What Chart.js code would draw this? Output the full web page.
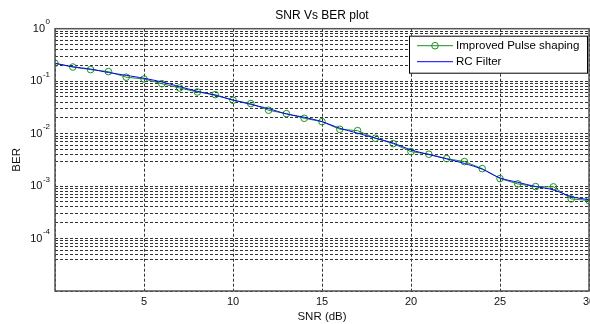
<!DOCTYPE html>
<html>
<head>
<meta charset="utf-8">
<title>SNR Vs BER plot</title>
<script src="https://cdn.jsdelivr.net/npm/chart.js@4.4.1/dist/chart.umd.min.js"></script>
<style>
  html, body { margin: 0; padding: 0; background: #fff; overflow: hidden; }
  #berChart { display: block; }
</style>
</head>
<body>
<canvas id="berChart" width="600" height="324"></canvas>
<script>
// SNR points (dB)
const snrDb = [0, 1, 2, 3, 4, 5, 6, 7, 8, 9, 10, 11, 12, 13, 14, 15,
  16, 17, 18, 19, 20, 21, 22, 23, 24, 25, 26, 27, 28, 29, 30];

// simulated BER, improved pulse shaping
const berImproved = [0.219, 0.186, 0.166, 0.152, 0.119, 0.110, 0.0896, 0.0742,
  0.0622, 0.0553, 0.0433, 0.0373, 0.0279, 0.0240, 0.0196, 0.0169, 0.0121,
  0.0114, 0.00817, 0.00645, 0.00454, 0.00405, 0.00334, 0.00293, 0.00215,
  0.00139, 0.00110, 0.000977, 0.000966, 0.000570, 0.000530];

// BER with the raised cosine filter
const berRcFilter = [0.219, 0.188, 0.170, 0.146, 0.129, 0.1136, 0.0966, 0.0786,
  0.0642, 0.0537, 0.0437, 0.0360, 0.0300, 0.0237, 0.0205, 0.0169, 0.0127,
  0.0102, 0.0082, 0.0066, 0.0049, 0.0040, 0.0033, 0.0027, 0.0021,
  0.00143, 0.00118, 0.00098, 0.00085, 0.00063, 0.00055];

const seriesNames = ["Improved Pulse shaping", "RC Filter"];

// labelled powers of ten on the BER axis
const yLabelExponents = [0, -1, -2, -3, -4];
// x tick values (0 stays unlabelled)
const xTickValues = [0, 5, 10, 15, 20, 25, 30];
// minor grid lines that are not drawn
const gridSkipped = ["2e-3", "3e-5", "2e-5"];

// grid lines for the log axis: 1..9 x 10^e
const yGridValues = [];
for (let e = -5; e <= 0; e++) {
  for (let m = 1; m <= 9; m++) {
    if (e === 0 && m > 1) break;
    const key = `${m}e${e}`;
    if (gridSkipped.includes(key)) continue;
    yGridValues.push(parseFloat(key));
  }
}

const GREEN = "#1f8f1f";
const BLUE = "#0000ff";
const GRID = "#333";
const FONT = "'Liberation Sans', Arial, Helvetica, sans-serif";

// 10^n labels with a raised exponent
const powerLabels = {
  id: "powerLabels",
  afterDraw(chart) {
    const { ctx, scales: { y } } = chart;
    const right = 50;
    ctx.save();
    ctx.fillStyle = "#111";
    ctx.textBaseline = "middle";
    yLabelExponents.forEach(exp => {
      const py = y.getPixelForValue(Math.pow(10, exp));
      const expText = String(exp);
      ctx.font = `8px ${FONT}`;
      const expW = ctx.measureText(expText).width;
      ctx.textAlign = "left";
      ctx.fillText(expText, right - expW, py - 6.5);
      ctx.font = `11px ${FONT}`;
      ctx.textAlign = "right";
      ctx.fillText("10", right - expW - 0.5, py);
    });
    ctx.restore();
  }
};

// axes frame on all four sides
const axesBox = {
  id: "axesBox",
  afterDatasetsDraw(chart) {
    const { ctx, chartArea: a } = chart;
    ctx.save();
    ctx.strokeStyle = "#555";
    ctx.lineWidth = 1.5;
    ctx.strokeRect(a.left, a.top, a.right - a.left, a.bottom - a.top);
    ctx.restore();
  }
};

// boxed legend in the upper right corner of the axes
const boxLegend = {
  id: "boxLegend",
  afterDraw(chart) {
    const { ctx, chartArea: a } = chart;
    const w = 178, h = 37;
    const x = a.right - 2 - w, y = a.top + 7;
    ctx.save();
    ctx.fillStyle = "#fff";
    ctx.fillRect(x, y, w, h);
    ctx.strokeStyle = "#000";
    ctx.lineWidth = 1;
    ctx.strokeRect(x + 0.5, y + 0.5, w, h);
    ctx.font = `11.5px ${FONT}`;
    ctx.textBaseline = "middle";
    ctx.textAlign = "left";
    chart.data.datasets.forEach((ds, i) => {
      const ry = y + 10 + i * 16;
      ctx.strokeStyle = ds.borderColor;
      ctx.lineWidth = 1;
      ctx.beginPath();
      ctx.moveTo(x + 8, ry);
      ctx.lineTo(x + 44, ry);
      ctx.stroke();
      if (ds.pointRadius > 0) {
        ctx.beginPath();
        ctx.arc(x + 26, ry, ds.pointRadius, 0, Math.PI * 2);
        ctx.stroke();
      }
      ctx.fillStyle = "#000";
      ctx.fillText(ds.label, x + 47, ry + 0.5);
    });
    ctx.restore();
  }
};

new Chart(document.getElementById("berChart"), {
  type: "line",
  data: {
    labels: snrDb,
    datasets: [
      {
        label: seriesNames[0],
        data: snrDb.map((s, i) => ({ x: s, y: berImproved[i] })),
        borderColor: GREEN,
        borderWidth: 1,
        pointRadius: 3.3,
        pointBorderColor: GREEN,
        pointBackgroundColor: "rgba(0,0,0,0)",
        pointBorderWidth: 1,
        tension: 0,
        order: 1
      },
      {
        label: seriesNames[1],
        data: snrDb.map((s, i) => ({ x: s, y: berRcFilter[i] })),
        borderColor: BLUE,
        borderWidth: 1,
        pointRadius: 0,
        tension: 0.3,
        order: 0
      }
    ]
  },
  options: {
    responsive: false,
    animation: false,
    devicePixelRatio: 1,
    layout: { padding: { left: 0, right: 11, top: 0, bottom: 0 } },
    plugins: {
      legend: { display: false },
      tooltip: { enabled: false },
      title: {
        display: true,
        fullSize: false,
        text: "SNR Vs BER plot",
        color: "#000",
        font: { family: FONT, size: 12, weight: "normal" },
        padding: { top: 8.5, bottom: 5.8 }
      }
    },
    scales: {
      x: {
        type: "linear",
        min: 0,
        max: 30,
        afterBuildTicks: scale => {
          scale.ticks = xTickValues.map(v => ({ value: v }));
        },
        afterFit: scale => { scale.height = 33; },
        ticks: {
          padding: 4,
          maxRotation: 0,
          color: "#111",
          font: { family: FONT, size: 11 },
          callback: v => (v === 0 ? "" : v)
        },
        grid: { color: GRID, lineWidth: 1, drawTicks: false },
        border: { display: false, dash: [3, 2] },
        title: {
          display: true,
          text: "SNR (dB)",
          color: "#111",
          font: { family: FONT, size: 11.5 },
          padding: { top: 0, bottom: 0 }
        }
      },
      y: {
        type: "logarithmic",
        min: 1e-5,
        max: 1,
        afterBuildTicks: scale => {
          scale.ticks = yGridValues.map(v => ({ value: v }));
        },
        afterFit: scale => { scale.width = 55; },
        ticks: { display: false },
        grid: { color: GRID, lineWidth: 1, drawTicks: false },
        border: { display: false, dash: [3, 2] },
        title: {
          display: true,
          text: "BER",
          color: "#111",
          font: { family: FONT, size: 11.5 },
          padding: { top: 10.4, bottom: 0 }
        }
      }
    }
  },
  plugins: [axesBox, powerLabels, boxLegend]
});
</script>
</body>
</html>
